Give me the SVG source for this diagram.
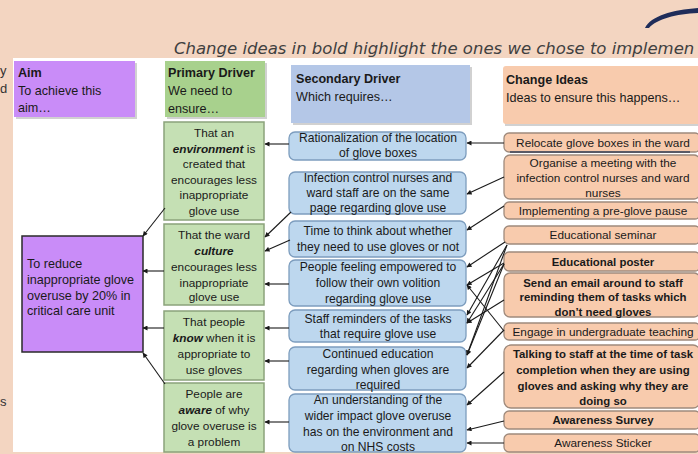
<svg xmlns="http://www.w3.org/2000/svg" width="698" height="454" viewBox="0 0 698 454">
<style>
text{font-family:"Liberation Sans",Arial,sans-serif;fill:#1a1a1a}
.hd{font-size:12.6px}
.b{font-weight:bold}
.bi{font-weight:bold;font-style:italic}
.pt{font-size:11.8px;text-anchor:middle}
.st{font-size:12.1px;text-anchor:middle}
.ct{font-size:11.8px;text-anchor:middle}
.cb{font-size:11.4px;text-anchor:middle;font-weight:bold}
.at{font-size:12.6px}
.pd{fill:#c5e0b4;stroke:#8ba37b;stroke-width:1.5}
.sd{fill:#bdd7ee;stroke:#7d9dbe;stroke-width:1.3}
.cd{fill:#f8cbad;stroke:#9f8a7c;stroke-width:1.3}
.sh{fill:#000;opacity:0.18}
.cn line{stroke:#1a1a1a;stroke-width:1.1;marker-end:url(#ah)}
</style>
<defs>
<marker id="ah" viewBox="0 0 10 10" refX="9" refY="5" markerWidth="6" markerHeight="5" markerUnits="userSpaceOnUse" orient="auto">
<path d="M0,0 L10,5 L0,10 Z" fill="#1a1a1a"/>
</marker>
</defs>
<rect x="0" y="0" width="698" height="454" fill="#f3d5c1"/>
<rect x="13" y="58" width="685" height="394" fill="#ffffff"/>
<path d="M645,28 C651,16 672,10 698,8 L698,13 C676,14 657,19 649,28 Z" fill="#1f2d5a"/>
<text x="174" y="54" style="font-family:'DejaVu Sans',sans-serif;font-style:italic;font-size:16.5px;fill:#404040">Change ideas in bold highlight the ones we chose to implemen</text>
<text x="0" y="75" style="font-size:13px;fill:#333">y</text>
<text x="0" y="93" style="font-size:13px;fill:#333">d</text>
<text x="0" y="406" style="font-size:13px;fill:#333">s</text>

<g id="hdr-aim">
<rect x="16" y="63" width="121" height="56" class="sh"/>
<rect x="14" y="61" width="121" height="56" fill="#c98cf8"/>
<text x="18" y="77" class="hd b">Aim</text>
<text x="18" y="95" class="hd">To achieve this</text>
<text x="18" y="112" class="hd">aim…</text>
</g>
<g id="hdr-primary">
<rect x="167" y="63" width="100" height="56" class="sh"/>
<rect x="165" y="61" width="100" height="56" fill="#a8d18d"/>
<text x="168" y="77" class="hd b">Primary Driver</text>
<text x="168" y="95" class="hd">We need to</text>
<text x="168" y="113" class="hd">ensure…</text>
</g>
<g id="hdr-secondary">
<rect x="293" y="67" width="179" height="58" class="sh"/>
<rect x="291" y="65" width="179" height="58" fill="#b4c7e7"/>
<text x="296" y="83" class="hd b">Secondary Driver</text>
<text x="296" y="101" class="hd">Which requires…</text>
</g>
<g id="hdr-change">
<rect x="505" y="68" width="195" height="58" class="sh"/>
<rect x="503" y="66" width="197" height="58" rx="3" fill="#f8cbad"/>
<text x="506" y="84" class="hd b">Change Ideas</text>
<text x="506" y="102" class="hd">Ideas to ensure this happens…</text>
</g>

<g id="aim">
<rect x="22" y="236" width="121" height="116" fill="#c98cf8" stroke="#2a2a2a" stroke-width="1.5"/>
<text x="27" y="268" class="at">To reduce</text>
<text x="27" y="284" class="at">inappropriate glove</text>
<text x="27" y="300" class="at">overuse by 20% in</text>
<text x="27" y="315" class="at">critical care unit</text>
</g>

<g id="p1">
<rect x="164" y="122" width="100" height="98" class="pd"/>
<text x="214" y="137" class="pt">That an</text>
<text x="214" y="153" class="pt"><tspan class="bi">environment</tspan> is</text>
<text x="214" y="168" class="pt">created that</text>
<text x="214" y="184" class="pt">encourages less</text>
<text x="214" y="199" class="pt">inappropriate</text>
<text x="214" y="215" class="pt">glove use</text>
</g>
<g id="p2">
<rect x="164" y="224" width="100" height="81" class="pd"/>
<text x="214" y="239" class="pt">That the ward</text>
<text x="214" y="255" class="pt bi">culture</text>
<text x="214" y="271" class="pt">encourages less</text>
<text x="214" y="287" class="pt">inappropriate</text>
<text x="214" y="301" class="pt">glove use</text>
</g>
<g id="p3">
<rect x="164" y="311" width="100" height="69" class="pd"/>
<text x="214" y="326" class="pt">That people</text>
<text x="214" y="342" class="pt"><tspan class="bi">know</tspan> when it is</text>
<text x="214" y="358" class="pt">appropriate to</text>
<text x="214" y="374" class="pt">use gloves</text>
</g>
<g id="p4">
<rect x="164" y="383" width="100" height="69" class="pd"/>
<text x="214" y="398" class="pt">People are</text>
<text x="214" y="414" class="pt"><tspan class="bi">aware</tspan> of why</text>
<text x="214" y="430" class="pt">glove overuse is</text>
<text x="214" y="446" class="pt">a problem</text>
</g>

<g id="s1">
<rect x="289" y="132" width="177" height="28" rx="6" class="sd"/>
<text x="378" y="142" class="st">Rationalization of the location</text>
<text x="378" y="157" class="st">of glove boxes</text>
</g>
<g id="s2">
<rect x="289" y="172" width="177" height="42" rx="6" class="sd"/>
<text x="378" y="182" class="st">Infection control nurses and</text>
<text x="378" y="197" class="st">ward staff are on the same</text>
<text x="378" y="212" class="st">page regarding glove use</text>
</g>
<g id="s3">
<rect x="289" y="221" width="177" height="36" rx="6" class="sd"/>
<text x="378" y="235" class="st">Time to think about whether</text>
<text x="378" y="251" class="st">they need to use gloves or not</text>
</g>
<g id="s4">
<rect x="289" y="260" width="177" height="46" rx="6" class="sd"/>
<text x="378" y="271" class="st">People feeling empowered to</text>
<text x="378" y="287" class="st">follow their own volition</text>
<text x="378" y="303" class="st">regarding glove use</text>
</g>
<g id="s5">
<rect x="289" y="310" width="177" height="32" rx="6" class="sd"/>
<text x="378" y="323" class="st">Staff reminders of the tasks</text>
<text x="378" y="338" class="st">that require glove use</text>
</g>
<g id="s6">
<rect x="289" y="347" width="177" height="43" rx="6" class="sd"/>
<text x="378" y="358" class="st">Continued education</text>
<text x="378" y="374" class="st">regarding when gloves are</text>
<text x="378" y="389" class="st">required</text>
</g>
<g id="s7">
<rect x="289" y="394" width="177" height="58" rx="6" class="sd"/>
<text x="378" y="404" class="st">An understanding of the</text>
<text x="378" y="420" class="st">wider impact glove overuse</text>
<text x="378" y="436" class="st">has on the environment and</text>
<text x="378" y="451" class="st">on NHS costs</text>
</g>

<g id="c1">
<rect x="504" y="133" width="196" height="19" rx="5" class="cd"/>
<line x1="510" y1="152" x2="690" y2="152" stroke="#5a5a66" stroke-width="2"/>
<text x="603" y="147" class="ct">Relocate glove boxes in the ward</text>
</g>
<g id="c2">
<rect x="504" y="155" width="196" height="44" rx="6" class="cd"/>
<text x="603" y="167" class="ct">Organise a meeting with the</text>
<text x="603" y="182" class="ct">infection control nurses and ward</text>
<text x="603" y="197" class="ct">nurses</text>
</g>
<g id="c3">
<rect x="504" y="202" width="196" height="17" rx="5" class="cd"/>
<text x="603" y="215" class="ct">Implementing a pre-glove pause</text>
</g>
<g id="c4">
<rect x="504" y="226" width="196" height="18" rx="5" class="cd"/>
<text x="603" y="239" class="ct">Educational seminar</text>
</g>
<g id="c5">
<rect x="504" y="252" width="196" height="19" rx="5" class="cd"/>
<text x="603" y="266" class="cb">Educational poster</text>
</g>
<g id="c6">
<rect x="504" y="273" width="196" height="44" rx="6" class="cd"/>
<text x="603" y="287" class="cb">Send an email around to staff</text>
<text x="603" y="301" class="cb">reminding them of tasks which</text>
<text x="603" y="316" class="cb">don’t need gloves</text>
</g>
<g id="c7">
<rect x="504" y="323" width="196" height="17" rx="5" class="cd"/>
<text x="603" y="336" class="ct">Engage in undergraduate teaching</text>
</g>
<g id="c8">
<rect x="504" y="345" width="196" height="63" rx="7" class="cd"/>
<text x="603" y="358" class="cb">Talking to staff at the time of task</text>
<text x="603" y="374" class="cb">completion when they are using</text>
<text x="603" y="390" class="cb">gloves and asking why they are</text>
<text x="603" y="405" class="cb">doing so</text>
</g>
<g id="c9">
<rect x="504" y="411" width="196" height="18" rx="5" class="cd"/>
<text x="603" y="424" class="cb">Awareness Survey</text>
</g>
<g id="c10">
<rect x="504" y="434" width="196" height="18" rx="5" class="cd"/>
<text x="603" y="447" class="ct">Awareness Sticker</text>
</g>

<g id="connectors" class="cn">
<line x1="165" y1="208" x2="143" y2="236"/>
<line x1="164" y1="271" x2="143" y2="271"/>
<line x1="164" y1="328" x2="143" y2="328"/>
<line x1="165" y1="384" x2="143" y2="353"/>

<line x1="289" y1="144" x2="265" y2="144"/>
<line x1="291" y1="212" x2="265" y2="237"/>
<line x1="290" y1="240" x2="265" y2="251"/>
<line x1="289" y1="284" x2="265" y2="284"/>
<line x1="289" y1="328" x2="265" y2="328"/>
<line x1="289" y1="361" x2="265" y2="361"/>
<line x1="289" y1="422" x2="265" y2="422"/>

<line x1="504" y1="143" x2="467" y2="143"/>
<line x1="504" y1="177" x2="467" y2="194"/>
<line x1="504" y1="206" x2="467" y2="230"/>
<line x1="505" y1="242" x2="467" y2="267"/>
<line x1="504" y1="263" x2="467" y2="285"/>
<line x1="504" y1="331" x2="467" y2="285"/>
<line x1="507" y1="245" x2="467" y2="315"/>
<line x1="504" y1="300" x2="467" y2="323"/>
<line x1="504" y1="264" x2="467" y2="323"/>
<line x1="507" y1="245" x2="467" y2="355"/>
<line x1="504" y1="264" x2="467" y2="355"/>
<line x1="504" y1="330" x2="467" y2="368"/>
<line x1="504" y1="372" x2="467" y2="405"/>
<line x1="504" y1="421" x2="467" y2="430"/>
<line x1="504" y1="443" x2="467" y2="443"/>
</g>
</svg>
